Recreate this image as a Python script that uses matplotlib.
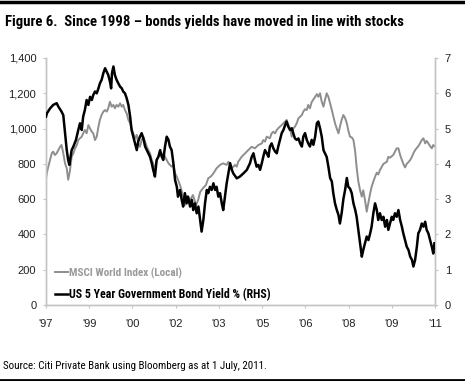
import matplotlib
matplotlib.use("Agg")
import matplotlib.pyplot as plt
from matplotlib.lines import Line2D

plt.rcParams['font.family'] = ['Liberation Sans', 'DejaVu Sans']
narrow = ['Roboto Condensed', 'Liberation Sans', 'DejaVu Sans']

# --- data (decimal years) ---
yield_t = [1998.00,1998.03,1998.14,1998.25,1998.37,1998.43,1998.54,1998.60,1998.66,1998.72,1998.77,1998.81,
    1998.89,1998.95,1999.04,1999.12,1999.18,1999.24,1999.29,1999.35,1999.41,1999.47,1999.53,1999.59,1999.64,
    1999.70,1999.76,1999.82,1999.87,1999.93,1999.99,2000.05,2000.11,2000.16,2000.22,2000.26,2000.29,2000.34,
    2000.39,2000.45,2000.51,2000.57,2000.63,2000.68,2000.74,2000.80,2000.86,2000.92,2000.97,2001.03,2001.09,
    2001.15,2001.20,2001.26,2001.32,2001.38,2001.44,2001.50,2001.55,2001.61,2001.67,2001.72,2001.78,2001.84,
    2001.90,2001.96,2002.02,2002.07,2002.13,2002.19,2002.25,2002.30,2002.36,2002.42,2002.48,2002.54,2002.58,
    2002.65,2002.71,2002.76,2002.82,2002.88,2002.93,2003.00,2003.06,2003.11,2003.17,2003.23,2003.29,2003.35,
    2003.40,2003.46,2003.52,2003.58,2003.63,2003.69,2003.75,2003.81,2003.87,2003.92,2003.98,2004.04,2004.10,
    2004.15,2004.21,2004.27,2004.33,2004.39,2004.45,2004.50,2004.62,2004.73,2004.85,2004.97,2005.08,2005.14,
    2005.20,2005.25,2005.31,2005.37,2005.43,2005.49,2005.54,2005.60,2005.66,2005.72,2005.77,2005.83,2005.89,
    2005.95,2006.01,2006.06,2006.12,2006.18,2006.24,2006.30,2006.35,2006.41,2006.47,2006.53,2006.58,2006.64,
    2006.70,2006.76,2006.82,2006.88,2006.93,2006.99,2007.05,2007.10,2007.16,2007.22,2007.28,2007.34,2007.40,
    2007.45,2007.51,2007.57,2007.63,2007.68,2007.74,2007.80,2007.86,2007.92,2007.97,2008.03,2008.09,2008.15,
    2008.20,2008.26,2008.32,2008.38,2008.44,2008.49,2008.55,2008.61,2008.67,2008.73,2008.78,2008.84,2008.90,
    2008.96,2009.01,2009.07,2009.13,2009.19,2009.25,2009.30,2009.36,2009.42,2009.48,2009.53,2009.59,2009.65,
    2009.71,2009.77,2009.83,2009.88,2009.94,2010.00,2010.05,2010.11,2010.17,2010.23,2010.29,2010.35,2010.40,
    2010.46,2010.52,2010.58,2010.64,2010.70,2010.75,2010.81,2010.87,2010.92,2010.98,2011.04,2011.10,2011.16,
    2011.21,2011.27,2011.33,2011.39,2011.44,2011.48]
yield_v = [5.34,5.43,5.57,5.67,5.72,5.62,5.48,5.38,4.87,4.39,4.11,3.97,
    4.39,4.49,4.68,4.96,5.15,4.96,5.34,5.53,5.81,5.67,5.90,5.81,5.95,
    6.05,6.00,6.14,6.28,6.38,6.57,6.71,6.61,6.52,6.33,6.14,6.57,6.76,
    6.52,6.38,6.28,6.19,6.14,6.05,6.00,5.86,5.67,5.34,4.96,4.77,4.58,
    4.39,4.63,4.77,4.87,4.72,4.49,4.39,4.30,4.20,4.02,3.83,3.64,4.11,
    4.20,4.39,4.20,4.11,4.49,4.77,4.68,4.49,4.39,4.02,3.54,3.35,3.07,
    3.26,2.98,2.79,3.17,2.88,3.07,2.79,2.98,2.69,2.88,2.60,2.79,2.41,
    2.08,2.41,2.89,3.26,3.17,3.35,3.26,3.45,3.26,3.35,3.07,3.17,2.88,
    2.69,3.07,3.45,3.73,4.02,3.83,3.73,3.59,3.64,3.73,3.83,4.02,4.20,
    4.30,4.11,3.92,3.97,3.83,4.02,4.20,4.39,4.30,4.20,4.49,4.58,4.44,
    4.35,4.30,4.49,4.68,4.87,4.96,5.10,5.20,5.05,4.96,5.01,4.87,4.72,
    4.68,4.72,4.58,4.49,4.77,4.87,4.68,4.58,4.49,4.68,4.54,4.77,5.15,
    5.20,5.01,4.77,4.39,4.30,4.20,3.92,3.60,3.50,3.17,2.88,2.70,2.55,
    2.31,2.60,3.00,3.26,3.60,3.35,3.30,3.17,2.88,2.70,2.50,2.13,1.75,
    1.37,1.56,1.75,1.94,1.84,2.03,2.22,2.60,2.88,2.69,2.41,2.60,2.41,
    2.50,2.22,2.41,2.13,2.31,2.50,2.41,2.60,2.50,2.69,2.41,2.22,2.03,
    1.84,1.65,1.56,1.37,1.28,1.09,1.28,1.65,2.03,2.13,2.31,2.22,2.36,
    2.13,2.03,1.84,1.65,1.46,1.75]

msci_t = [1998.00,1998.05,1998.14,1998.20,1998.25,1998.31,1998.37,1998.43,1998.49,1998.54,1998.60,1998.66,
    1998.72,1998.77,1998.83,1998.89,1998.95,1999.01,1999.07,1999.12,1999.18,1999.24,1999.29,1999.35,1999.41,
    1999.47,1999.53,1999.59,1999.64,1999.70,1999.76,1999.82,1999.87,1999.93,1999.99,2000.05,2000.11,2000.16,
    2000.22,2000.28,2000.34,2000.39,2000.45,2000.51,2000.57,2000.63,2000.68,2000.74,2000.80,2000.86,2000.92,
    2000.97,2001.03,2001.09,2001.15,2001.20,2001.26,2001.32,2001.38,2001.44,2001.50,2001.55,2001.61,2001.67,
    2001.72,2001.78,2001.84,2001.90,2001.96,2002.02,2002.07,2002.13,2002.19,2002.25,2002.30,2002.36,2002.42,
    2002.48,2002.54,2002.65,2002.75,2002.82,2002.89,2003.00,2003.10,2003.21,2003.28,2003.35,2003.45,2003.55,
    2003.63,2003.73,2003.81,2003.92,2004.04,2004.15,2004.27,2004.33,2004.45,2004.56,2004.62,2004.67,2004.79,
    2004.91,2005.02,2005.14,2005.25,2005.37,2005.49,2005.54,2005.60,2005.66,2005.77,2005.83,2005.89,2005.95,
    2006.01,2006.06,2006.12,2006.18,2006.24,2006.30,2006.35,2006.41,2006.47,2006.53,2006.58,2006.64,2006.70,
    2006.76,2006.82,2006.88,2006.93,2006.99,2007.05,2007.10,2007.16,2007.22,2007.28,2007.34,2007.40,2007.45,
    2007.51,2007.57,2007.63,2007.68,2007.74,2007.80,2007.86,2007.92,2007.97,2008.03,2008.09,2008.15,2008.20,
    2008.26,2008.32,2008.38,2008.44,2008.49,2008.55,2008.61,2008.67,2008.73,2008.78,2008.84,2008.90,2008.96,
    2009.01,2009.07,2009.13,2009.19,2009.25,2009.30,2009.36,2009.42,2009.48,2009.53,2009.59,2009.71,2009.83,
    2009.88,2009.94,2010.05,2010.17,2010.23,2010.29,2010.35,2010.40,2010.46,2010.52,2010.58,2010.64,2010.70,
    2010.75,2010.81,2010.92,2010.98,2011.04,2011.10,2011.16,2011.21,2011.27,2011.33,2011.39,2011.44,2011.48]
msci_v = [718,765,822,860,869,850,860,878,897,907,860,803,
    775,710,760,840,860,888,907,935,945,954,973,992,973,
    1020,1000,982,973,935,954,1011,1049,1077,1096,1105,1096,1115,
    1152,1124,1134,1115,1134,1124,1143,1124,1134,1105,1086,1049,1030,
    1000,973,945,964,917,897,935,954,926,897,878,860,822,
    803,765,822,840,860,840,860,840,822,803,794,784,794,
    746,727,680,623,567,618,595,623,567,595,640,663,680,
    718,730,746,775,794,803,794,812,775,794,784,812,840,
    860,878,897,888,907,916,935,926,954,945,973,982,973,
    992,1002,1011,1020,1030,1040,1049,1020,1000,954,1000,1011,1030,
    1058,1067,1077,1096,1110,1105,1134,1115,1150,1165,1181,1195,1180,
    1200,1152,1124,1160,1200,1180,1143,1105,1070,1030,1000,973,1010,
    1049,1077,1060,1030,990,954,950,935,870,780,700,650,614,
    650,595,529,580,633,670,700,727,750,740,765,800,812,
    840,835,850,888,888,850,822,800,780,800,810,822,840,
    860,878,900,916,935,945,916,930,916,900,888,907,900]

xtick_labels = ["'97", "'99", "'00", "'02", "'03", "'05", "'06", "'08", "'09", "'11"]
left_ticks = [0, 200, 400, 600, 800, 1000, 1200, 1400]
right_ticks = [0, 1, 2, 3, 4, 5, 6, 7]
msci_label = "MSCI World Index (Local)"
yield_label = "US 5 Year Government Bond Yield % (RHS)"

# --- figure ---
fig = plt.figure(figsize=(4.65, 3.81), dpi=100)
ax = fig.add_axes([46/465, 1-305/381, 389/465, 247/381])
ax2 = ax.twinx()

gray = '#8e8e8e'
l1, = ax.plot(msci_t, msci_v, color=gray, lw=1.4, zorder=2)
l2, = ax2.plot(yield_t, yield_v, color='black', lw=1.8, zorder=3)

ax.set_xlim(1998.0, 2011.5)
ax.set_ylim(0, 1400)
ax2.set_ylim(0, 7)
xt = [1998.0 + 1.5*i for i in range(len(xtick_labels))]
ax.set_xticks(xt)
ax.set_xticklabels(xtick_labels)
ax.set_yticks(left_ticks)
ax.set_yticklabels([f"{v:,}" for v in left_ticks])
ax2.set_yticks(right_ticks)

spc = '#c4c4c4'
for a in (ax, ax2):
    a.spines['top'].set_visible(False)
    for s in ('left', 'right', 'bottom'):
        a.spines[s].set_color(spc)
        a.spines[s].set_linewidth(1.0)
    a.tick_params(length=2, width=0.8, color=spc, labelsize=8, labelcolor='#222222', pad=5)
ax.tick_params(axis='x', pad=8)
ax2.patch.set_visible(False)

leg = ax.legend([l1, l2], [msci_label, yield_label], loc='lower left',
                bbox_to_anchor=(0.022, 0.015), frameon=False, handlelength=1.1,
                handletextpad=0.15, labelspacing=0.8, borderpad=0, borderaxespad=0,
                prop={'family': narrow, 'weight': 'bold', 'size': 8.6})
leg.get_texts()[0].set_color('#9a9a9a')
leg.get_texts()[0].set_fontsize(8.0)
leg.get_texts()[1].set_color('black')
leg.set_zorder(5)

fig.text(5/465, 1-22/381, "Figure 6.  Since 1998 \u2013 bonds yields have moved in line with stocks",
         fontsize=10.6, fontweight='bold', va='center', ha='left', family=narrow)
fig.text(3/465, 1-366/381, "Source: Citi Private Bank using Bloomberg as at 1 July, 2011.",
         fontsize=7.9, va='center', ha='left', family=narrow)

fig.add_artist(Line2D([0, 1], [1-1.5/381, 1-1.5/381], color='black', lw=2.5, transform=fig.transFigure))
fig.add_artist(Line2D([0, 1], [1.5/381, 1.5/381], color='black', lw=2.0, transform=fig.transFigure))

fig.savefig('out.png', dpi=100)
